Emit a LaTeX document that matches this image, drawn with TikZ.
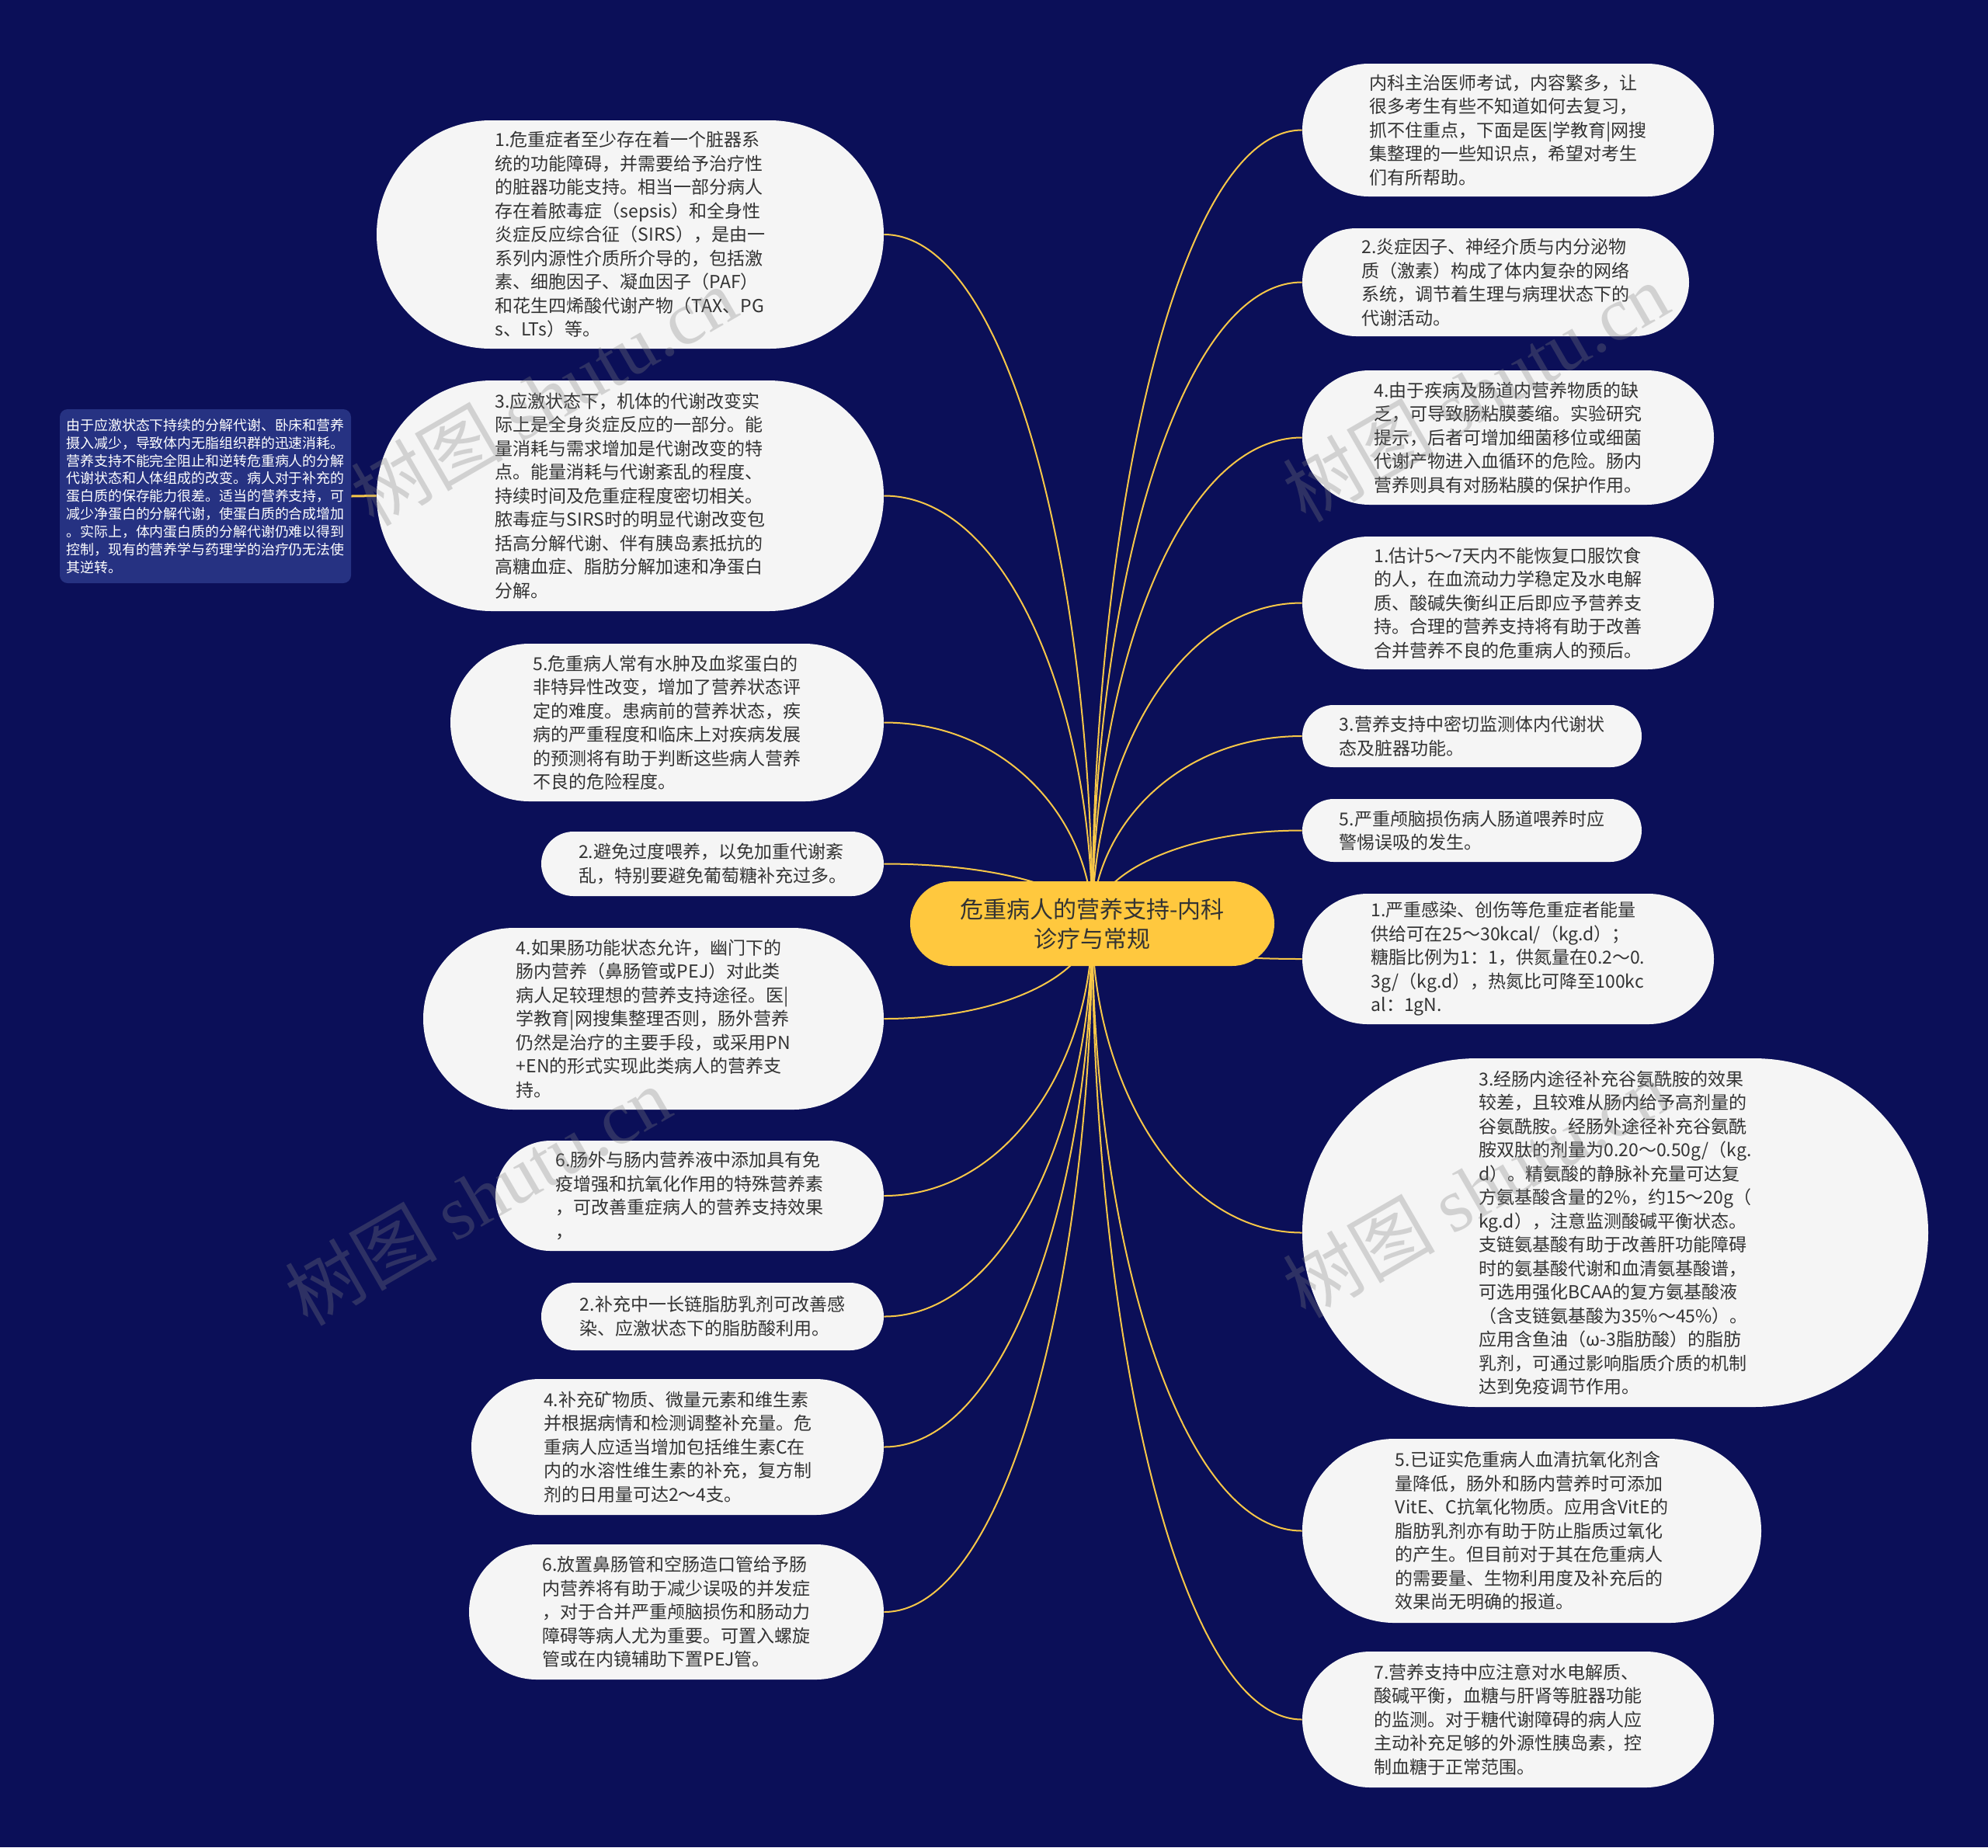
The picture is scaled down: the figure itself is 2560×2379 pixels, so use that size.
\documentclass[tikz,border=0pt]{standalone}
\usepackage{fontspec}
\setmainfont{Noto Sans CJK SC}
\newfontfamily\wmserif{Liberation Serif}
\usetikzlibrary{shapes.misc,calc}
\definecolor{navy}{RGB}{11,15,88}
\definecolor{notefill}{RGB}{38,50,130}
\definecolor{leaffill}{RGB}{245,245,245}
\definecolor{txt}{RGB}{51,51,51}
\definecolor{linec}{RGB}{247,199,72}
\definecolor{rootfill}{RGB}{255,200,62}
\pgfdeclarelayer{bg}
\pgfdeclarelayer{lines}
\pgfsetlayers{bg,lines,main}
\newcommand{\conn}[2]{\draw[conn] let \p1=(root.center), \p2=(#1.#2) in (\p1) .. controls (\x1,{0.5*\y1+0.5*\y2}) and ({\x1+0.4*(\x2-\x1)},\y2) .. (\p2);}
\begin{document}
\begin{tikzpicture}[x=0.5pt,y=-0.5pt,
  leaf/.style={rounded rectangle, fill=leaffill, text=txt, inner sep=0pt, align=left, font={\fontsize{11.5pt}{15.25pt}\selectfont}},
  sz/.style 2 args={minimum width={#1*0.5pt}, minimum height={#2*0.5pt}},
  rootbox/.style={rounded rectangle, fill=rootfill, text=txt, inner sep=0pt, align=center, font={\fontsize{15pt}{19pt}\selectfont}},
  notebox/.style={rectangle, rounded corners=5pt, fill=notefill, text=white, inner sep=0pt, align=left, font={\fontsize{8.95pt}{11.45pt}\selectfont}},
  conn/.style={draw=linec, line width=1pt},
  noteconn/.style={draw=linec, line width=1.5pt},
  wm/.style={rotate=30, text=gray, opacity=0.3, font={\fontsize{49pt}{55pt}\selectfont}}
]
\useasboundingbox (0,0) rectangle (2560,2379);
\begin{pgfonlayer}{bg}
\fill[navy] (0,0) rectangle (2560,2379);
\end{pgfonlayer}

% root
\node[rootbox,sz={469}{109}] (root) at (1406.5,1189.5) {危重病人的营养支持-内科\\诊疗与常规};

% left side
\node[leaf,sz={653}{294}] (L1) at (811.5,302) {1.危重症者至少存在着一个脏器系\\统的功能障碍，并需要给予治疗性\\的脏器功能支持。相当一部分病人\\存在着脓毒症（sepsis）和全身性\\炎症反应综合征（SIRS），是由一\\系列内源性介质所介导的，包括激\\素、细胞因子、凝血因子（PAF）\\和花生四烯酸代谢产物（TAX、PG\\s、LTs）等。};
\node[leaf,sz={653}{297}] (L3) at (811.5,638.5) {3.应激状态下，机体的代谢改变实\\际上是全身炎症反应的一部分。能\\量消耗与需求增加是代谢改变的特\\点。能量消耗与代谢紊乱的程度、\\持续时间及危重症程度密切相关。\\脓毒症与SIRS时的明显代谢改变包\\括高分解代谢、伴有胰岛素抵抗的\\高糖血症、脂肪分解加速和净蛋白\\分解。};
\node[leaf,sz={558}{203}] (L5) at (859,930.5) {5.危重病人常有水肿及血浆蛋白的\\非特异性改变，增加了营养状态评\\定的难度。患病前的营养状态，疾\\病的严重程度和临床上对疾病发展\\的预测将有助于判断这些病人营养\\不良的危险程度。};
\node[leaf,sz={441}{83}] (L2a) at (917.5,1112.5) {2.避免过度喂养，以免加重代谢紊\\乱，特别要避免葡萄糖补充过多。};
\node[leaf,sz={593}{234}] (L4a) at (841.5,1312) {4.如果肠功能状态允许，幽门下的\\肠内营养（鼻肠管或PEJ）对此类\\病人足较理想的营养支持途径。医|\\学教育|网搜集整理否则，肠外营养\\仍然是治疗的主要手段，或采用PN\\+EN的形式实现此类病人的营养支\\持。};
\node[leaf,sz={500}{142}] (L6a) at (888,1540) {6.肠外与肠内营养液中添加具有免\\疫增强和抗氧化作用的特殊营养素\\，可改善重症病人的营养支持效果\\，};
\node[leaf,sz={441}{87}] (L2b) at (917.5,1695.5) {2.补充中一长链脂肪乳剂可改善感\\染、应激状态下的脂肪酸利用。};
\node[leaf,sz={531}{175}] (L4b) at (872.5,1863.5) {4.补充矿物质、微量元素和维生素\\并根据病情和检测调整补充量。危\\重病人应适当增加包括维生素C在\\内的水溶性维生素的补充，复方制\\剂的日用量可达2～4支。};
\node[leaf,sz={534}{174}] (L6b) at (871,2076) {6.放置鼻肠管和空肠造口管给予肠\\内营养将有助于减少误吸的并发症\\，对于合并严重颅脑损伤和肠动力\\障碍等病人尤为重要。可置入螺旋\\管或在内镜辅助下置PEJ管。};

% note
\node[notebox,minimum width=187.5pt,minimum height=112pt] (note) at (264.5,639) {由于应激状态下持续的分解代谢、卧床和营养\\摄入减少，导致体内无脂组织群的迅速消耗。\\营养支持不能完全阻止和逆转危重病人的分解\\代谢状态和人体组成的改变。病人对于补充的\\蛋白质的保存能力很差。适当的营养支持，可\\减少净蛋白的分解代谢，使蛋白质的合成增加\\。实际上，体内蛋白质的分解代谢仍难以得到\\控制，现有的营养学与药理学的治疗仍无法使\\其逆转。};

% right side
\node[leaf,sz={530}{171}] (R0) at (1942,167.5) {内科主治医师考试，内容繁多，让\\很多考生有些不知道如何去复习，\\抓不住重点，下面是医|学教育|网搜\\集整理的一些知识点，希望对考生\\们有所帮助。};
\node[leaf,sz={498}{139}] (R2) at (1926,363.5) {2.炎症因子、神经介质与内分泌物\\质（激素）构成了体内复杂的网络\\系统，调节着生理与病理状态下的\\代谢活动。};
\node[leaf,sz={530}{173}] (R4) at (1942,563.5) {4.由于疾病及肠道内营养物质的缺\\乏，可导致肠粘膜萎缩。实验研究\\提示，后者可增加细菌移位或细菌\\代谢产物进入血循环的危险。肠内\\营养则具有对肠粘膜的保护作用。};
\node[leaf,sz={530}{171}] (R1) at (1942,776.5) {1.估计5～7天内不能恢复口服饮食\\的人，在血流动力学稳定及水电解\\质、酸碱失衡纠正后即应予营养支\\持。合理的营养支持将有助于改善\\合并营养不良的危重病人的预后。};
\node[leaf,sz={437}{80}] (R3) at (1895.5,948) {3.营养支持中密切监测体内代谢状\\态及脏器功能。};
\node[leaf,sz={437}{81}] (R5) at (1895.5,1069.5) {5.严重颅脑损伤病人肠道喂养时应\\警惕误吸的发生。};
\node[leaf,sz={530}{168}] (R1b) at (1942,1235) {1.严重感染、创伤等危重症者能量\\供给可在25～30kcal/（kg.d）；\\糖脂比例为1：1，供氮量在0.2～0.\\3g/（kg.d），热氮比可降至100kc\\al：1gN.};
\node[leaf,sz={806}{449}] (R3b) at (2080,1587.5) {3.经肠内途径补充谷氨酰胺的效果\\较差，且较难从肠内给予高剂量的\\谷氨酰胺。经肠外途径补充谷氨酰\\胺双肽的剂量为0.20～0.50g/（kg.\\d）。精氨酸的静脉补充量可达复\\方氨基酸含量的2\%，约15～20g（\\kg.d），注意监测酸碱平衡状态。\\支链氨基酸有助于改善肝功能障碍\\时的氨基酸代谢和血清氨基酸谱，\\可选用强化BCAA的复方氨基酸液\\（含支链氨基酸为35\%～45\%）。\\应用含鱼油（ω-3脂肪酸）的脂肪\\乳剂，可通过影响脂质介质的机制\\达到免疫调节作用。};
\node[leaf,sz={591}{237}] (R5b) at (1972.5,1971.5) {5.已证实危重病人血清抗氧化剂含\\量降低，肠外和肠内营养时可添加\\VitE、C抗氧化物质。应用含VitE的\\脂肪乳剂亦有助于防止脂质过氧化\\的产生。但目前对于其在危重病人\\的需要量、生物利用度及补充后的\\效果尚无明确的报道。};
\node[leaf,sz={530}{175}] (R7) at (1942,2214.5) {7.营养支持中应注意对水电解质、\\酸碱平衡，血糖与肝肾等脏器功能\\的监测。对于糖代谢障碍的病人应\\主动补充足够的外源性胰岛素，控\\制血糖于正常范围。};

% connectors
\begin{pgfonlayer}{lines}
\conn{L1}{east}
\conn{L3}{east}
\conn{L5}{east}
\conn{L2a}{east}
\conn{L4a}{east}
\conn{L6a}{east}
\conn{L2b}{east}
\conn{L4b}{east}
\conn{L6b}{east}
\conn{R0}{west}
\conn{R2}{west}
\conn{R4}{west}
\conn{R1}{west}
\conn{R3}{west}
\conn{R5}{west}
\conn{R1b}{west}
\conn{R3b}{west}
\conn{R5b}{west}
\conn{R7}{west}
\draw[noteconn] (note.east) -- (L3.west);
\end{pgfonlayer}

% watermarks
\node[wm] (w1) at (700,510) {树图 {\wmserif shutu.cn}};
\node[wm] (w2) at (1900,505) {树图 {\wmserif shutu.cn}};
\node[wm] (w3) at (615,1540) {树图 {\wmserif shutu.cn}};
\node[wm] (w4) at (1900,1530) {树图 {\wmserif shutu.cn}};
\end{tikzpicture}
\end{document}
